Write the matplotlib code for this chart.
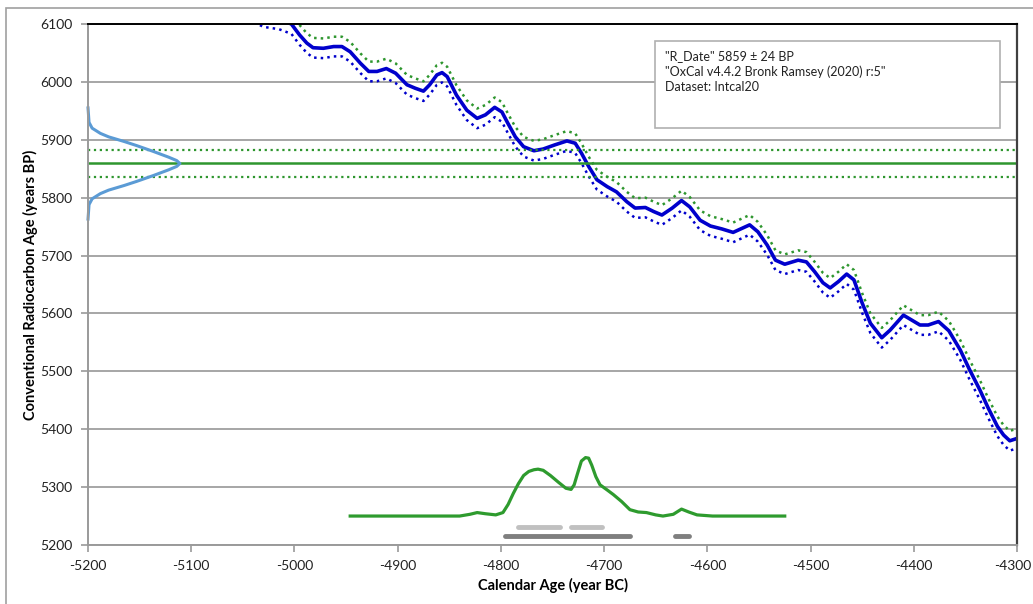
import numpy as np
import matplotlib
matplotlib.use('Agg')
import matplotlib.pyplot as plt
import matplotlib.transforms as mtransforms
from matplotlib.patches import Rectangle

plt.rcParams['font.family'] = ['Lato', 'DejaVu Sans']
plt.rcParams['axes.unicode_minus'] = False

# calibration curve (IntCal20)
cal_years = [-5045, -5030, -5015, -5003, -4995, -4988, -4982, -4972, -4962, -4954,
             -4946, -4936, -4928, -4920, -4911, -4902, -4891, -4883, -4875, -4869,
             -4862, -4857, -4852, -4843, -4833, -4823, -4815, -4806, -4799, -4794,
             -4786, -4778, -4768, -4759, -4748, -4736, -4728, -4722, -4715, -4707,
             -4697, -4688, -4678, -4670, -4660, -4652, -4644, -4634, -4625, -4617,
             -4607, -4597, -4586, -4575, -4559, -4551, -4542, -4534, -4525, -4512,
             -4504, -4496, -4488, -4481, -4473, -4465, -4458, -4450, -4442, -4431,
             -4423, -4410, -4394, -4386, -4376, -4366, -4355, -4346, -4336, -4328,
             -4319, -4313, -4307, -4300]
cal_bp = [6125, 6112, 6108, 6100, 6081, 6067, 6059, 6058, 6061, 6061,
          6052, 6032, 6018, 6018, 6023, 6015, 5995, 5989, 5984, 5995,
          6012, 6016, 6009, 5977, 5951, 5937, 5943, 5956, 5948, 5931,
          5905, 5888, 5881, 5884, 5891, 5898, 5894, 5877, 5854, 5831,
          5819, 5810, 5793, 5782, 5783, 5776, 5770, 5782, 5795, 5784,
          5761, 5751, 5746, 5740, 5753, 5741, 5718, 5692, 5685, 5692,
          5689, 5672, 5653, 5644, 5655, 5668, 5658, 5618, 5583, 5558,
          5571, 5597, 5580, 5580, 5586, 5570, 5537, 5503, 5468, 5437,
          5405, 5390, 5380, 5384]
cal_sigma = 17

# R_Date
r_date = 5859
r_err = 24

# measured date distribution drawn on the y axis
gauss_bp = [5955, 5930, 5920, 5911, 5905, 5897, 5890, 5880, 5870, 5864, 5859,
            5854, 5848, 5838, 5828, 5821, 5813, 5807, 5798, 5788, 5763]
gauss_year = [-5200, -5199, -5196, -5188, -5180, -5165, -5153, -5137, -5122, -5114, -5111,
              -5114, -5122, -5137, -5153, -5165, -5180, -5188, -5196, -5199, -5200]

# calibrated distribution (drawn over a 5250 baseline)
post_year = [-4946, -4900, -4840, -4830, -4823, -4815, -4805, -4798, -4793, -4788,
             -4783, -4778, -4773, -4768, -4764, -4759, -4752, -4744, -4737, -4732,
             -4729, -4726, -4722, -4718, -4715, -4712, -4708, -4704, -4697, -4691,
             -4683, -4675, -4667, -4659, -4650, -4643, -4633, -4625, -4618, -4610,
             -4595, -4560, -4525]
post_bp = [5250, 5250, 5250, 5253, 5256, 5254, 5252, 5256, 5270, 5289,
           5306, 5320, 5327, 5330, 5331, 5329, 5320, 5308, 5298, 5296,
           5304, 5322, 5345, 5351, 5350, 5338, 5318, 5304, 5295, 5287,
           5275, 5261, 5257, 5256, 5252, 5250, 5253, 5262, 5257, 5252,
           5250, 5250, 5250]

# probability ranges
range68 = [(-4783, -4743), (-4732, -4702)]
range95 = [(-4796, -4675), (-4631, -4618)]
bar68_bp = 5231
bar95_bp = 5216

blue = '#0000cc'
green = '#2e962e'

fig = plt.figure(figsize=(10.33, 6.04), dpi=100)
ax = fig.add_axes([0.0852, 0.0977, 0.8993, 0.8626])

# outer chart border
fig.patches.append(Rectangle((6 / 1033, -0.1), 1.2, 1 - 8 / 604 + 0.1,
                             transform=fig.transFigure, fill=False,
                             edgecolor='#a0a0a0', linewidth=1.2))

ax.set_xlim(-5200, -4300)
ax.set_ylim(5200, 6100)
ax.set_xticks(range(-5200, -4299, 100))
ax.set_yticks(range(5200, 6101, 100))
ax.grid(axis='y', color='#a6a6a6', linewidth=1.4)
ax.set_axisbelow(True)

cy = np.array(cal_years)
cb = np.array(cal_bp)
ax.plot(cy, cb + cal_sigma, color=green, linestyle=':', linewidth=1.8)
ax.plot(cy, cb - cal_sigma, color=blue, linestyle=':', linewidth=1.8)
ax.plot(cy, cb, color=blue, linewidth=2.6, solid_joinstyle='round')

ax.axhline(r_date, color=green, linewidth=1.8)
ax.axhline(r_date + r_err, color=green, linestyle=':', linewidth=1.6)
ax.axhline(r_date - r_err, color=green, linestyle=':', linewidth=1.6)

ax.plot(gauss_year, gauss_bp, color='#5b9bd5', linewidth=2.2, clip_on=False,
        solid_joinstyle='round')
ax.plot(post_year, post_bp, color='#2e9b2e', linewidth=2.3, solid_joinstyle='round')

for a, b in range68:
    ax.plot([a, b], [bar68_bp, bar68_bp], color='#c0c0c0', linewidth=3.5, solid_capstyle='round')
for a, b in range95:
    ax.plot([a, b], [bar95_bp, bar95_bp], color='#7f7f7f', linewidth=3.5, solid_capstyle='round')

for side in ['left', 'bottom']:
    ax.spines[side].set_color('#9a9a9a')
    ax.spines[side].set_linewidth(1.4)
ax.spines['top'].set_color('black')
ax.spines['top'].set_linewidth(1.4)
ax.spines['right'].set_color('#404040')
ax.spines['right'].set_linewidth(1.6)
ax.tick_params(axis='both', direction='out', length=5, width=1.2, color='#9a9a9a',
               labelsize=10, labelcolor='#222222')
ax.tick_params(axis='x', pad=6)
ax.tick_params(axis='y', pad=6)

# keep the last x label inside the picture
last = ax.xaxis.get_major_ticks()[-1].label1
last.set_horizontalalignment('right')
last.set_transform(last.get_transform() +
                   mtransforms.ScaledTranslation(14 / 100, 0, fig.dpi_scale_trans))

ax.set_xlabel('Calendar Age (year BC)', fontsize=10.5, fontweight='bold', labelpad=4)
ax.set_ylabel('Conventional Radiocarbon Age (years BP)', fontsize=10.5, fontweight='bold')
ax.yaxis.set_label_coords(-0.054, 0.5)

# info box
fig.patches.append(Rectangle((655 / 1033, 1 - 128 / 604), 345 / 1033, 87 / 604,
                             transform=fig.transFigure, facecolor='white',
                             edgecolor='#b0b0b0', linewidth=1.2, zorder=5))
info = ['"R_Date" 5859 \u00b1 24 BP', '"OxCal v4.4.2 Bronk Ramsey (2020) r:5"', 'Dataset: Intcal20']
for i, line in enumerate(info):
    fig.text(665 / 1033, 1 - (56 + i * 15.5) / 604, line, fontsize=9, color='#222222',
             va='center', zorder=6)

fig.savefig('out.png', dpi=100)
